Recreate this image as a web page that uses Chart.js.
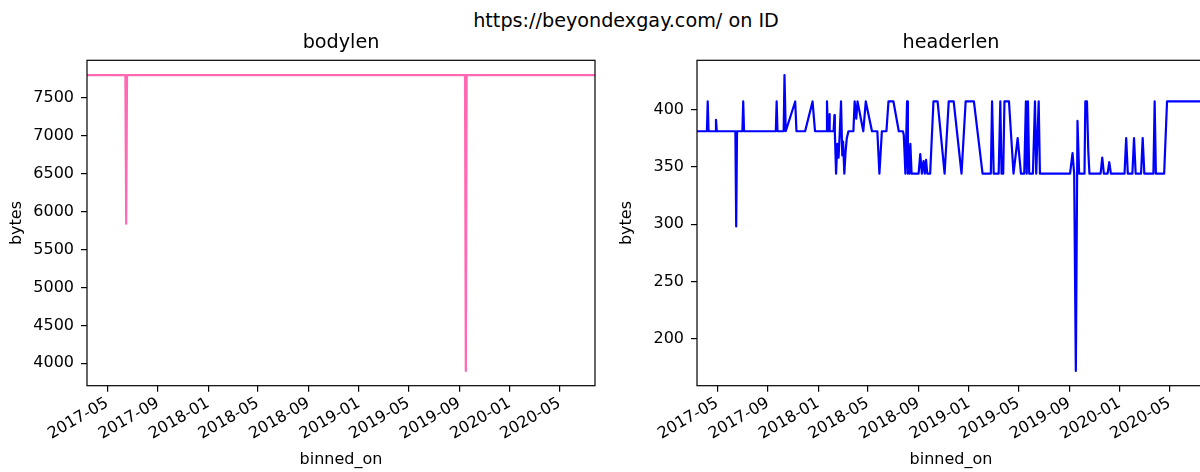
<!DOCTYPE html>
<html>
<head>
<meta charset="utf-8">
<script src="https://cdn.jsdelivr.net/npm/chart.js@4.4.1/dist/chart.umd.min.js"></script>
<style>
    html, body { margin: 0; padding: 0; background: #fff; }
    body { width: 1200px; height: 472px; overflow: hidden; position: relative; font-family: 'DejaVu Sans', sans-serif; }
    #suptitle { position: absolute; left: 0; top: 9px; width: 1252px; text-align: center; font-size: 19.2px; line-height: 24px; color: #000; }
    canvas { position: absolute; top: 0; }
    #body-chart   { left: 0; }
    #header-chart { left: 610px; }
</style>
</head>
<body>
<div id="suptitle">https://beyondexgay.com/ on ID</div>
<canvas id="body-chart" width="620" height="472"></canvas>
<canvas id="header-chart" width="620" height="472"></canvas>
<script>
const MONTH_TICKS = ['2017-05', '2017-09', '2018-01', '2018-05', '2018-09', '2019-01', '2019-05', '2019-09', '2020-01', '2020-05'];
const X_RANGE     = ['2017-03-13', '2020-07-26'];

const BODY_DATES  = ['2017-03-13', '2017-06-14', '2017-06-16', '2017-06-18', '2019-09-15', '2019-09-17', '2019-09-19', '2020-07-26'];
const BODY_VALUES = [7800, 7800, 5840, 7800, 7800, 3900, 7800, 7800];
const BODY_TICKS  = [4000, 4500, 5000, 5500, 6000, 6500, 7000, 7500];

const HEADER_DATES = [
    '2017-03-13', '2017-04-06', '2017-04-08', '2017-04-10', '2017-04-26', '2017-04-28', '2017-04-30',
    '2017-06-14', '2017-06-16', '2017-06-18', '2017-07-01', '2017-07-03', '2017-07-05',
    '2017-09-20', '2017-09-22', '2017-09-24', '2017-10-09', '2017-10-11', '2017-10-14',
    '2017-11-06', '2017-11-09', '2017-11-30', '2017-12-18', '2017-12-24',
    '2018-01-20', '2018-01-22', '2018-01-24', '2018-01-27', '2018-01-28', '2018-01-29',
    '2018-02-07', '2018-02-09', '2018-02-10', '2018-02-13', '2018-02-16', '2018-02-19',
    '2018-02-22', '2018-02-25', '2018-02-28', '2018-03-02', '2018-03-05', '2018-03-08',
    '2018-03-11', '2018-03-15', '2018-03-27', '2018-03-30', '2018-04-03', '2018-04-06',
    '2018-04-20', '2018-04-26', '2018-05-11', '2018-05-24', '2018-05-29', '2018-06-04',
    '2018-06-15', '2018-06-20', '2018-07-02', '2018-07-15', '2018-07-25', '2018-07-27',
    '2018-07-29', '2018-07-31', '2018-08-04', '2018-08-06', '2018-08-08', '2018-08-10',
    '2018-08-12', '2018-08-15', '2018-09-01', '2018-09-05', '2018-09-09', '2018-09-13',
    '2018-09-16', '2018-09-19', '2018-09-22', '2018-09-29', '2018-10-07', '2018-10-17',
    '2018-11-03', '2018-11-13', '2018-11-25', '2018-12-14', '2018-12-24', '2019-01-13',
    '2019-02-03', '2019-02-23', '2019-02-26', '2019-03-02', '2019-03-14', '2019-03-18',
    '2019-03-21', '2019-03-25', '2019-03-28', '2019-04-08', '2019-04-19', '2019-04-29',
    '2019-05-07', '2019-05-15', '2019-05-19', '2019-05-21', '2019-05-24', '2019-05-27',
    '2019-06-05', '2019-06-10', '2019-06-13', '2019-06-19', '2019-06-22',
    '2019-09-03', '2019-09-09', '2019-09-13', '2019-09-17', '2019-09-21', '2019-09-25',
    '2019-10-08', '2019-10-10', '2019-10-14', '2019-10-17', '2019-10-20',
    '2019-11-16', '2019-11-20', '2019-11-24', '2019-12-03', '2019-12-07', '2019-12-11',
    '2020-01-13', '2020-01-17', '2020-01-21', '2020-02-01', '2020-02-05', '2020-02-09',
    '2020-02-22', '2020-02-26', '2020-03-01', '2020-03-23', '2020-03-26', '2020-03-29',
    '2020-04-18', '2020-04-25', '2020-07-26',
];
const HEADER_VALUES = [
    381, 381, 407, 381, 381, 391, 381,
    381, 298, 381, 381, 407, 381,
    381, 407, 381, 381, 430, 381,
    407, 381, 381, 407, 381,
    381, 407, 381, 381, 396, 381,
    381, 395, 381, 344, 370, 358,
    380, 407, 360, 372, 344, 363,
    375, 381, 381, 407, 392, 407,
    381, 407, 381, 381, 344, 381,
    381, 407, 407, 381, 381, 378,
    362, 344, 407, 344, 368, 344,
    370, 344, 344, 361, 344, 355,
    344, 356, 344, 344, 407, 407,
    344, 407, 407, 344, 407, 407,
    344, 344, 407, 344, 344, 407,
    344, 344, 407, 407, 344, 375,
    344, 344, 407, 344, 407, 344,
    344, 407, 344, 407, 344,
    344, 362, 344, 172, 390, 344,
    344, 407, 407, 365, 344,
    344, 358, 344, 344, 354, 344,
    344, 375, 344, 344, 375, 344,
    344, 375, 344, 344, 407, 344,
    344, 407, 407,
];
const HEADER_TICKS = [200, 250, 300, 350, 400];

const PINK = '#ff69b4';
const BLUE = '#0000ff';
const INK  = '#000000';
const FAMILY = "'DejaVu Sans', sans-serif";

Chart.defaults.font.family = FAMILY;
Chart.defaults.color = INK;

// axes box on all four sides, drawn over the line like matplotlib spines
const frame = {
    id: 'frame',
    afterDatasetsDraw(chart) {
        const { ctx, chartArea: a } = chart;
        ctx.save();
        ctx.strokeStyle = INK;
        ctx.lineWidth = 1.2;
        ctx.strokeRect(a.left, a.top, a.right - a.left, a.bottom - a.top);
        ctx.restore();
    },
};

// subplot title centred over the plot area rather than the whole canvas
const axesTitle = {
    id: 'axesTitle',
    afterDraw(chart, args, opts) {
        const { ctx, chartArea: a } = chart;
        ctx.save();
        ctx.fillStyle = INK;
        ctx.font = `19.2px ${FAMILY}`;
        ctx.textAlign = 'center';
        ctx.textBaseline = 'middle';
        ctx.fillText(opts.text, (a.left + a.right) / 2, opts.y);
        ctx.restore();
    },
};

function monthLabel(ms) {
    const d = new Date(ms);
    return `${d.getUTCFullYear()}-${String(d.getUTCMonth() + 1).padStart(2, '0')}`;
}

function makeChart(id, title, dates, values, color, yTicks) {
    const lo = Math.min(...values);
    const hi = Math.max(...values);
    const pad = (hi - lo) * 0.05;

    return new Chart(document.getElementById(id), {
        type: 'line',
        data: {
            datasets: [{
                data: dates.map((d, i) => ({ x: Date.parse(d), y: values[i] })),
                borderColor: color,
                borderWidth: 2.2,
                borderJoinStyle: 'round',
                pointRadius: 0,
                tension: 0,
                fill: false,
            }],
        },
        options: {
            responsive: false,
            animation: false,
            events: [],
            layout: { padding: { left: 0, right: 25, top: 60.3, bottom: 0 } },
            plugins: {
                legend: { display: false },
                tooltip: { enabled: false },
                axesTitle: { text: title, y: 43 },
            },
            scales: {
                x: {
                    type: 'linear',
                    min: Date.parse(X_RANGE[0]),
                    max: Date.parse(X_RANGE[1]),
                    afterBuildTicks: s => { s.ticks = MONTH_TICKS.map(m => ({ value: Date.parse(m + '-01') })); },
                    afterFit: s => { s.height = 86.3; },
                    grid: { drawOnChartArea: false, drawTicks: true, tickLength: 6, color: INK, lineWidth: 1.2 },
                    border: { display: false },
                    ticks: {
                        autoSkip: false,
                        minRotation: 30,
                        maxRotation: 30,
                        padding: 2,
                        color: INK,
                        font: { size: 16 },
                        callback: v => monthLabel(v),
                    },
                    title: {
                        display: true,
                        text: 'binned_on',
                        color: INK,
                        font: { size: 16 },
                        padding: { top: 0, bottom: 3 },
                    },
                },
                y: {
                    min: lo - pad,
                    max: hi + pad,
                    afterBuildTicks: s => { s.ticks = yTicks.map(v => ({ value: v })); },
                    afterFit: s => { s.width = 87; },
                    grid: { drawOnChartArea: false, drawTicks: true, tickLength: 6, color: INK, lineWidth: 1.2 },
                    border: { display: false },
                    ticks: {
                        padding: 7,
                        color: INK,
                        font: { size: 16 },
                        callback: v => String(v),
                    },
                    title: {
                        display: true,
                        text: 'bytes',
                        color: INK,
                        font: { size: 16 },
                        padding: { top: 7, bottom: 0 },
                    },
                },
            },
        },
        plugins: [frame, axesTitle],
    });
}

makeChart('body-chart', 'bodylen', BODY_DATES, BODY_VALUES, PINK, BODY_TICKS);
makeChart('header-chart', 'headerlen', HEADER_DATES, HEADER_VALUES, BLUE, HEADER_TICKS);
</script>
</body>
</html>
